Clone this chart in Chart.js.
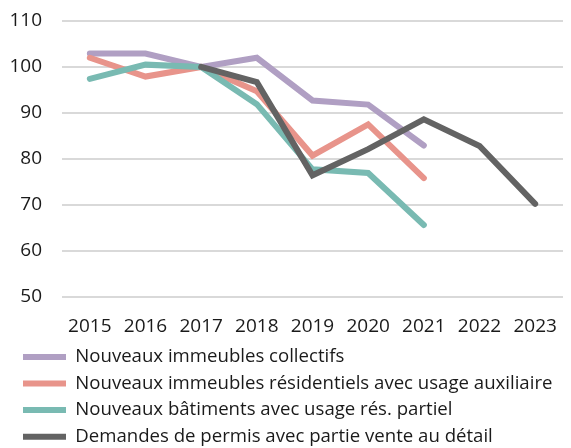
<!DOCTYPE html>
<html lang="fr">
<head>
  <meta charset="UTF-8" />
  <title>Indices</title>
  <script src="https://cdn.jsdelivr.net/npm/chart.js"></script>
  <style>
    html, body { margin: 0; padding: 0; background: #fff; }
    .wrap { width: 571px; height: 448px; }
  </style>
</head>
<body>
  <div class="wrap"><canvas id="chart" width="571" height="448"></canvas></div>
  <script>
    const years = ['2015', '2016', '2017', '2018', '2019', '2020', '2021', '2022', '2023'];
    const collectifs = [102.9, 102.9, 100, 102.0, 92.7, 91.8, 82.9, null, null];
    const auxiliaire = [102.0, 97.9, 100, 94.7, 80.7, 87.5, 75.8, null, null];
    const partiel = [97.4, 100.5, 100, 91.9, 77.7, 76.9, 65.6, null, null];
    const venteDetail = [null, null, 100, 96.7, 76.4, 82.1, 88.6, 82.8, 70.2];

    const names = [
      'Nouveaux immeubles collectifs',
      'Nouveaux immeubles résidentiels avec usage auxiliaire',
      'Nouveaux bâtiments avec usage rés. partiel',
      'Demandes de permis avec partie vente au détail'
    ];
    const colors = ['#b09fc3', '#e8948b', '#79bab2', '#636363'];
    const series = [collectifs, auxiliaire, partiel, venteDetail];

    Chart.defaults.font.family = "'Open Sans', sans-serif";
    Chart.defaults.font.size = 19;
    Chart.defaults.color = '#1a1a1a';

    // push the legend block to the right, the plot stays where it is
    const legendShift = {
      id: 'legendShift',
      afterLayout(chart) {
        chart.legend.left += 15;
      }
    };

    new Chart(document.getElementById('chart'), {
      type: 'line',
      data: {
        labels: years,
        datasets: series.map((s, i) => ({
          label: names[i],
          data: s,
          order: series.length - i, // last series drawn on top
          borderColor: colors[i],
          backgroundColor: colors[i],
          borderWidth: 6,
          borderCapStyle: 'round',
          borderJoinStyle: 'miter',
          pointRadius: 0,
          pointStyle: 'line',
          tension: 0
        }))
      },
      options: {
        responsive: false,
        animation: false,
        layout: { padding: { top: 21, left: 0, right: 8, bottom: -8 } },
        scales: {
          x: {
            offset: true,
            grid: { display: false },
            border: { display: false },
            ticks: { padding: 11, maxRotation: 0 },
            afterFit: (scale) => { scale.height = 43; }
          },
          y: {
            min: 50,
            max: 110,
            grid: { color: '#d9d9d9', lineWidth: 2, drawTicks: false },
            border: { display: false },
            ticks: { stepSize: 10, padding: 20 },
            afterFit: (scale) => {
              scale.width = 62;
              scale.paddingTop = 0;
              scale.paddingBottom = 0;
            }
          }
        },
        plugins: {
          legend: {
            position: 'bottom',
            align: 'start',
            labels: {
              usePointStyle: true,
              pointStyleWidth: 43,
              boxHeight: 6,
              padding: 8,
              font: { size: 18.6 },
              sort: (a, b) => a.datasetIndex - b.datasetIndex
            }
          },
          tooltip: { enabled: false }
        }
      },
      plugins: [legendShift]
    });
  </script>
</body>
</html>
